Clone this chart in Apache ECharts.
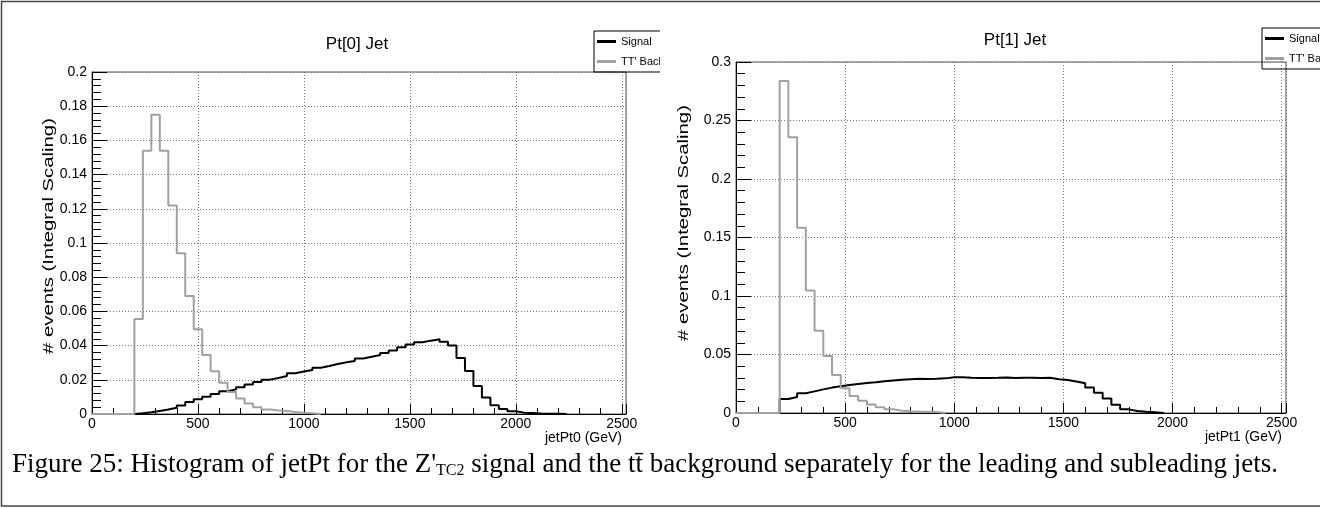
<!DOCTYPE html>
<html>
<head>
<meta charset="utf-8">
<title>jetPt</title>
<script src="https://cdn.jsdelivr.net/npm/echarts@6/dist/echarts.min.js"></script>
<style>
  html, body { margin: 0; padding: 0; background: #fff; }
  #chart { width: 1320px; height: 508px; }
</style>
</head>
<body>
<div id="chart"></div>
<script>
// histograms: 40 GeV bins, first filled bin starts at 200 GeV
var binWidth = 40
var firstBin = 200
var xMax = 2520

// leading jet (Pt[0])
var sigLead = [0.0004, 0.001, 0.0018, 0.0026, 0.0036, 0.005, 0.007, 0.0086, 0.0101, 0.0117,
  0.0133, 0.0144, 0.0156, 0.0172, 0.0187, 0.0201, 0.0211, 0.0222, 0.0238, 0.0248,
  0.0257, 0.0271, 0.0281, 0.0292, 0.0302, 0.031, 0.0324, 0.0335, 0.0345, 0.0357,
  0.0372, 0.039, 0.0407, 0.0419, 0.0429, 0.0437, 0.0423, 0.040, 0.0327, 0.0251,
  0.0164, 0.0096, 0.0051, 0.0029, 0.0016, 0.0008, 0.0006, 0.0003, 0.0002, 0.0001, 0]
var bkgLead = [0.0556, 0.154, 0.175, 0.154, 0.122, 0.094, 0.069, 0.0495, 0.0345, 0.025,
  0.0183, 0.0129, 0.009, 0.0062, 0.0039, 0.0027, 0.002, 0.0018, 0.0012, 0.0008,
  0.0005, 0]

// subleading jet (Pt[1])
var sigSub = [0.012, 0.0137, 0.0168, 0.0185, 0.0202, 0.0217, 0.0228, 0.0239, 0.0248, 0.0256,
  0.0263, 0.0271, 0.0278, 0.0285, 0.0289, 0.0293, 0.0291, 0.0292, 0.0296, 0.0306,
  0.0305, 0.0302, 0.030, 0.030, 0.0301, 0.0303, 0.0299, 0.0301, 0.0302, 0.0299,
  0.0302, 0.0288, 0.0282, 0.027, 0.0254, 0.0219, 0.0174, 0.0123, 0.0071, 0.0031,
  0.0017, 0.0011, 0.0006, 0]
var bkgSub = [0.2838, 0.2356, 0.1584, 0.1048, 0.0704, 0.0487, 0.0325, 0.0211, 0.0145, 0.0105,
  0.0072, 0.005, 0.0032, 0.002, 0.0015, 0.0012, 0.001, 0.0008, 0]

var titles = ['Pt[0] Jet', 'Pt[1] Jet']
var xNames = ['jetPt0 (GeV)', 'jetPt1 (GeV)']
var yName = '# events (Integral Scaling)'
var seriesNames = ['Signal', "TT' Background"]
var yMaxes = [0.2, 0.3]
var yIntervals = [0.02, 0.05]

// turn bin contents into step points (left edge, value)
function toSteps(vals) {
  var pts = [[0, 0]]
  for (var i = 0; i < vals.length; i++) {
    pts.push([firstBin + i * binWidth, vals[i]])
  }
  pts.push([firstBin + vals.length * binWidth, 0])
  return pts
}

var font = 'Liberation Sans, Helvetica, Arial, sans-serif'
var serif = 'Liberation Serif, Times New Roman, serif'
var grids = [
  { left: 92, top: 72, width: 534, height: 342 },
  { left: 736, top: 62, width: 550, height: 351 }
]

function xAxisFor(i) {
  return {
    type: 'value', gridIndex: i, min: 0, max: xMax, interval: 500,
    name: xNames[i], nameLocation: 'end', nameGap: -4,
    nameTextStyle: { color: '#000', fontSize: 14, fontFamily: font, align: 'right', verticalAlign: 'top', padding: [17, 0, 0, 0] },
    axisLine: { lineStyle: { color: '#000', width: 1 } },
    axisTick: { inside: true, length: 10, lineStyle: { color: '#000' } },
    minorTick: { show: true, splitNumber: 5, length: 6, lineStyle: { color: '#000' } },
    axisLabel: { color: '#000', fontSize: 14, fontFamily: font, margin: 3,
      formatter: function (v) { return v % 500 === 0 ? v : '' } },
    splitLine: { show: true, lineStyle: { color: '#777', type: [1, 2], width: 1 } }
  }
}

function yAxisFor(i) {
  return {
    type: 'value', gridIndex: i, min: 0, max: yMaxes[i], interval: yIntervals[i],
    axisLine: { show: true, lineStyle: { color: '#000', width: 1 } },
    axisTick: { show: true, inside: true, length: 15, lineStyle: { color: '#000' } },
    minorTick: { show: true, splitNumber: 5, length: 9, lineStyle: { color: '#000' } },
    axisLabel: { color: '#000', fontSize: 14, fontFamily: font, margin: 5 },
    splitLine: { show: true, lineStyle: { color: '#777', type: [1, 2], width: 1 } }
  }
}

function lineSeries(name, idx, vals, color) {
  return {
    name: name, type: 'line', step: 'end',
    xAxisIndex: idx, yAxisIndex: idx,
    data: toSteps(vals),
    showSymbol: false, symbol: 'none',
    lineStyle: { color: color, width: 2 },
    itemStyle: { color: color },
    silent: true
  }
}

// y titles are stretched along their length in the original plots
function yTitle(x, y) {
  return {
    type: 'text', x: x, y: y, rotation: Math.PI / 2, scaleX: 1.45,
    style: { text: yName, fill: '#000', font: '14px ' + font, align: 'center', verticalAlign: 'middle' }
  }
}

function legendFor(left, top) {
  return {
    data: seriesNames, left: left, top: top, orient: 'vertical',
    icon: 'rect', itemWidth: 19, itemHeight: 3, itemGap: 9,
    padding: [5, 6, 5, 3], borderColor: '#000', borderWidth: 1,
    textStyle: { fontSize: 11, color: '#000', fontFamily: font }
  }
}

var sigColor = '#000000'
var bkgColor = '#a0a0a0'

var myChart = echarts.init(document.getElementById('chart'))
var option

option = {
  animation: false,
  backgroundColor: '#fff',
  title: [
    { text: titles[0], left: 352, top: 31, textAlign: 'center',
      textStyle: { fontSize: 17, fontWeight: 'normal', color: '#000', fontFamily: font } },
    { text: titles[1], left: 1010, top: 27, textAlign: 'center',
      textStyle: { fontSize: 17, fontWeight: 'normal', color: '#000', fontFamily: font } },
    { text: "{a|Figure 25: Histogram of jetPt for the Z'}{s|TC2}{a| signal and the tt\u0304 background separately for the leading and subleading jets.}",
      left: 7, top: 444,
      textStyle: { fontWeight: 'normal', rich: {
        a: { fontSize: 27, fontWeight: 'normal', fontFamily: serif, color: '#000', lineHeight: 32 },
        s: { fontSize: 16, fontWeight: 'normal', fontFamily: serif, color: '#000', lineHeight: 32, padding: [12, 0, 0, 0] }
      } } }
  ],
  legend: [legendFor(594, 31), legendFor(1262, 28)],
  grid: grids.map(function (g) {
    return Object.assign({ show: true, borderColor: '#555', borderWidth: 1, backgroundColor: 'transparent' }, g)
  }),
  xAxis: [xAxisFor(0), xAxisFor(1)],
  yAxis: [yAxisFor(0), yAxisFor(1)],
  series: [
    lineSeries(seriesNames[0], 0, sigLead, sigColor),
    lineSeries(seriesNames[1], 0, bkgLead, bkgColor),
    lineSeries(seriesNames[0], 1, sigSub, sigColor),
    lineSeries(seriesNames[1], 1, bkgSub, bkgColor)
  ],
  graphic: [
    yTitle(49, 236),
    yTitle(684, 223),
    // left pad ends here, cuts off its legend box
    { type: 'rect', z: 100, shape: { x: 660, y: 20, width: 47, height: 56 }, style: { fill: '#fff' } },
    { type: 'rect', z: 101, shape: { x: 1.5, y: 1.5, width: 1330, height: 504.5 }, style: { fill: 'none', stroke: '#444', lineWidth: 1.5 } }
  ]
}

option && myChart.setOption(option)
</script>
</body>
</html>
